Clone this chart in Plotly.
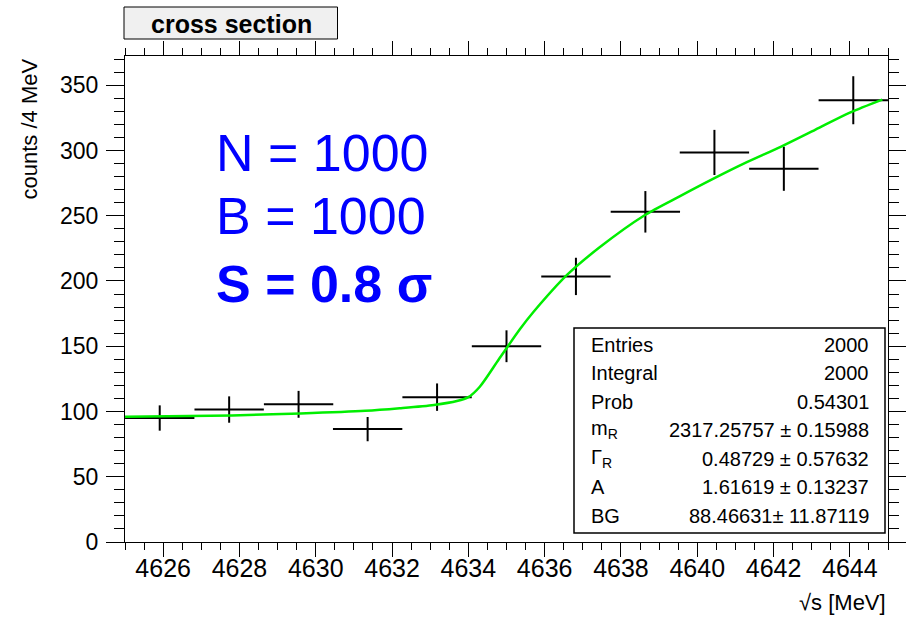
import plotly.graph_objects as go

# ---- data ----
bin_centers = [4625.91, 4627.73, 4629.55, 4631.36, 4633.18, 4635.00,
               4636.82, 4638.64, 4640.45, 4642.27, 4644.09]
counts = [95, 101.5, 105.5, 86.5, 111, 150, 203.5, 253, 298.5, 286, 338.5]
count_errors = [9.7, 10.1, 10.3, 9.3, 10.5, 12.2, 14.3, 15.9, 17.3, 16.9, 18.4]
bin_half_width = [0.909] * len(bin_centers)

fit_x = [4625.0, 4627.8, 4629.6, 4631.3, 4632.2, 4633.1, 4633.7, 4634.0, 4634.3, 4634.8,
         4635.35, 4635.7, 4636.6, 4637.45, 4638.6, 4639.55, 4640.4, 4641.3,
         4642.2, 4643.1, 4644.0, 4644.85]
fit_y = [96, 97, 98.5, 100.5, 102.5, 105, 108, 111, 119, 140,
         163, 176, 205, 226, 250, 265, 278, 291,
         303, 316, 329, 339]

stats_names = ["Entries", "Integral", "Prob", "m<sub>R</sub>", "Γ<sub>R</sub>", "A", "BG"]
stats_values = ["2000", "2000", "0.54301", "2317.25757 ± 0.15988",
                "0.48729 ± 0.57632", "1.61619 ± 0.13237", "88.46631± 11.87119"]

info_lines = ["N = 1000", "B = 1000", "<b>S = 0.8 σ</b>"]

# ---- geometry helpers (pixels -> paper) ----
W, H = 906, 621
L, R, T, B = 125, 18, 56, 79
pw, ph = W - L - R, H - T - B


def px(x):
    return (x - L) / pw


def py(y):
    return (H - B - y) / ph


FONT = "Liberation Sans, Arial, sans-serif"

fig = go.Figure()

fig.add_trace(go.Scatter(
    x=bin_centers, y=counts, mode="markers",
    marker=dict(size=2, color="black"),
    error_x=dict(type="data", array=bin_half_width, color="black", thickness=2, width=0),
    error_y=dict(type="data", array=count_errors, color="black", thickness=2, width=0),
    showlegend=False, hoverinfo="x+y",
))

fig.add_trace(go.Scatter(
    x=fit_x, y=fit_y, mode="lines",
    line=dict(color="#00ee00", width=2.5, shape="spline", smoothing=0.8),
    showlegend=False,
))

fig.update_layout(
    width=W, height=H, autosize=False,
    margin=dict(l=L, r=R, t=T, b=B, autoexpand=False),
    paper_bgcolor="white", plot_bgcolor="white",
    font=dict(family=FONT, color="black"),
    xaxis=dict(
        range=[4625, 4645], tick0=4626, dtick=2, automargin=False,
        ticks="outside", ticklen=14, tickwidth=1, tickcolor="black",
        minor=dict(dtick=0.5, ticks="outside", ticklen=7, tickcolor="black", tickwidth=1),
        showline=True, linecolor="black", linewidth=1, mirror="ticks",
        showgrid=False, zeroline=False,
        tickfont=dict(size=25, family=FONT, color="black"),
        ticklabelstandoff=-10,
    ),
    yaxis=dict(
        range=[0, 372.4], tick0=0, dtick=50, automargin=False,
        ticks="outside", ticklen=18, tickwidth=1, tickcolor="black",
        minor=dict(dtick=10, ticks="outside", ticklen=10, tickcolor="black", tickwidth=1),
        showline=True, linecolor="black", linewidth=1, mirror="ticks",
        showgrid=False, zeroline=False,
        tickfont=dict(size=23, family=FONT, color="black"),
        ticklabelstandoff=3,
    ),
)

shapes = []
annotations = []

# title box
shapes.append(dict(type="rect", xref="paper", yref="paper",
                   x0=px(124), x1=px(337.5), y0=py(39), y1=py(7),
                   fillcolor="#f0f0f0", line=dict(color="black", width=1)))
annotations.append(dict(xref="paper", yref="paper", x=px(231), y=py(24),
                        text="<b>cross section</b>", showarrow=False,
                        xanchor="center", yanchor="middle",
                        font=dict(size=25, family=FONT, color="black")))

# axis titles
annotations.append(dict(xref="paper", yref="paper", x=px(29), y=py(57),
                        text="counts /4 MeV", textangle=-90, showarrow=False,
                        xanchor="center", yanchor="top",
                        font=dict(size=22, family=FONT, color="black")))
annotations.append(dict(xref="paper", yref="paper", x=px(888), y=py(602),
                        text="√s [MeV]", showarrow=False,
                        xanchor="right", yanchor="middle",
                        font=dict(size=22, family=FONT, color="black")))

# big blue text
for t, yc in zip(info_lines, [153, 216, 284]):
    annotations.append(dict(xref="paper", yref="paper", x=px(214), y=py(yc),
                            text=t, showarrow=False, xanchor="left", yanchor="middle",
                            font=dict(size=52, family=FONT, color="#0000ff")))

# stats box
shapes.append(dict(type="rect", xref="paper", yref="paper",
                   x0=px(574), x1=px(885), y0=py(533), y1=py(328),
                   fillcolor="white", line=dict(color="black", width=1.5)))
row_y = [344.5, 373, 401.5, 430, 458.5, 487, 515.5]
for name, val, yc in zip(stats_names, stats_values, row_y):
    annotations.append(dict(xref="paper", yref="paper", x=px(589), y=py(yc),
                            text=name, showarrow=False, xanchor="left", yanchor="middle",
                            font=dict(size=20, family=FONT, color="black")))
    annotations.append(dict(xref="paper", yref="paper", x=px(871), y=py(yc),
                            text=val, showarrow=False, xanchor="right", yanchor="middle",
                            font=dict(size=20, family=FONT, color="black")))

fig.update_layout(shapes=shapes, annotations=annotations)

fig.write_html(
    "out.html",
    config={"responsive": False, "displayModeBar": False},
    post_script="document.body.style.margin='0px';document.body.style.overflow='hidden';",
)
